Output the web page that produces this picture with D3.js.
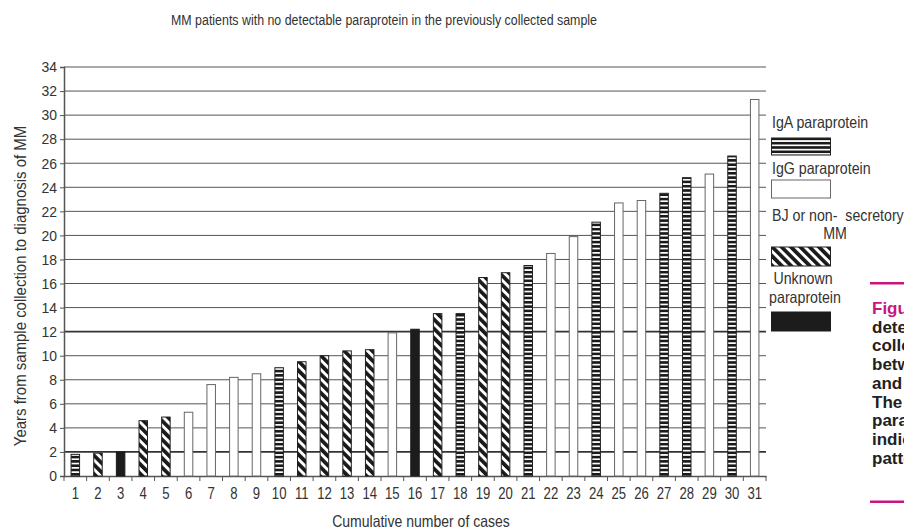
<!DOCTYPE html>
<html><head><meta charset="utf-8">
<script src="https://cdn.jsdelivr.net/npm/d3@7"></script>
<style>
html,body{margin:0;padding:0;background:#fff;}
svg{display:block;}
text{font-family:"Liberation Sans",Arial,sans-serif;fill:#333;}
.cap{font-family:"Liberation Sans",Arial,sans-serif;font-weight:bold;fill:#231f20;}
.pre{white-space:pre;}
</style></head>
<body>
<svg id="chart" width="904" height="530"></svg>
<script>
// ---- data ----
const cases = ["1","2","3","4","5","6","7","8","9","10","11","12","13","14","15","16","17","18","19","20","21","22","23","24","25","26","27","28","29","30","31"];
const years = [1.8, 1.9, 2.0, 4.6, 4.9, 5.3, 7.6, 8.2, 8.5, 9.0, 9.5, 10.0, 10.4, 10.5, 11.9, 12.2, 13.5, 13.5, 16.5, 16.9, 17.5, 18.5, 19.9, 21.1, 22.7, 22.9, 23.5, 24.8, 25.1, 26.6, 31.3];
const types = ["IgA","BJ","Unknown","BJ","BJ","IgG","IgG","IgG","IgG","IgA","BJ","BJ","BJ","BJ","IgG","Unknown","BJ","IgA","BJ","BJ","IgA","IgG","IgG","IgA","IgG","IgG","IgA","IgA","IgG","IgA","IgG"];
const yTicks = [0,2,4,6,8,10,12,14,16,18,20,22,24,26,28,30,32,34];
const legendKeys = ["IgA","IgG","BJ","Unknown"];
const titleText = "MM patients with no detectable paraprotein in the previously collected sample";
const xTitle = "Cumulative number of cases";
const yTitle = "Years from sample collection to diagnosis of MM";
const captionWords = ["Figure","detectable","collected","between","and","The","paraprotein","indicated","pattern"];

// ---- helpers ----
// condense text horizontally (the original uses a condensed face)
function squeeze(sel, k){
  sel.each(function(){
    const w = this.getComputedTextLength();
    d3.select(this).attr("textLength", w*k).attr("lengthAdjust","spacingAndGlyphs");
  });
}

// ---- setup ----
const svg = d3.select("#chart");
const L = 64, R = 766, T = 67, B = 476;
const x = d3.scaleBand().domain(cases).range([L, R]).paddingInner(0.58).paddingOuter(0.29);
const y = d3.scaleLinear().domain([0, 34]).range([B, T]);

const defs = svg.append("defs");
const ph = defs.append("pattern").attr("id","pIgA").attr("patternUnits","userSpaceOnUse").attr("width",10).attr("height",4.3);
ph.append("rect").attr("width",10).attr("height",4.3).attr("fill","#fff");
ph.append("rect").attr("y",0).attr("width",10).attr("height",2.6).attr("fill","#1a1a1a");
const pd = defs.append("pattern").attr("id","pBJ").attr("patternUnits","userSpaceOnUse").attr("width",6.6).attr("height",10).attr("patternTransform","rotate(-45)");
pd.append("rect").attr("width",6.6).attr("height",10).attr("fill","#fff");
pd.append("rect").attr("x",0).attr("width",3.7).attr("height",10).attr("fill","#1a1a1a");

const fillOf = {IgA:"url(#pIgA)", IgG:"#fff", BJ:"url(#pBJ)", Unknown:"#1c1c1c"};
const strokeOf = {IgA:"#222", IgG:"#666", BJ:"#222", Unknown:"#1c1c1c"};
const legendLines = {
  IgA:[{t:"IgA paraprotein",x:772,y:122,a:"start"}],
  IgG:[{t:"IgG paraprotein",x:772,y:168,a:"start"}],
  BJ:[{t:"BJ or non-  secretory",x:772,y:215,a:"start"},{t:"MM",x:835,y:233,a:"middle"}],
  Unknown:[{t:"Unknown",x:803,y:278,a:"middle"},{t:"paraprotein",x:805,y:297,a:"middle"}]
};
const swatchY = {IgA:138, IgG:180, BJ:247, Unknown:312};
const swatchH = {IgA:17, IgG:18, BJ:19, Unknown:19};

// title
svg.append("text").attr("x",384).attr("y",25).attr("text-anchor","middle")
  .attr("font-size",15.5).text(titleText).call(squeeze,0.8);

// gridlines
svg.append("g").selectAll("line").data(yTicks.filter(d=>d>0)).join("line")
  .attr("x1",L).attr("x2",R).attr("y1",d=>y(d)).attr("y2",d=>y(d))
  .attr("stroke",d=>(d===2||d===12)?"#333":"#555")
  .attr("stroke-width",d=>(d===2||d===12)?1.8:1);

// y axis
const yAxis = d3.axisLeft(y).tickValues(yTicks).tickSize(4).tickPadding(3).tickFormat(d3.format("d"));
const gy = svg.append("g").attr("transform",`translate(${L},0)`).call(yAxis);
gy.select(".domain").attr("stroke","#555").attr("stroke-width",1.5);
gy.selectAll(".tick line").attr("stroke","#555");
gy.selectAll(".tick text").attr("font-size",15).attr("fill","#333")
  .attr("font-family",'"Liberation Sans",Arial,sans-serif').call(squeeze,0.93);

// x axis
const xAxis = d3.axisBottom(x).tickSize(0).tickPadding(12);
const gx = svg.append("g").attr("transform",`translate(0,${B})`).call(xAxis);
gx.select(".domain").attr("stroke","#555").attr("stroke-width",1.5);
gx.selectAll(".tick text").attr("font-size",16).attr("fill","#333")
  .attr("font-family",'"Liberation Sans",Arial,sans-serif').call(squeeze,0.82);
const step = x.step();
gx.append("g").selectAll("line").data(d3.range(cases.length+1)).join("line")
  .attr("x1",i=>L+i*step).attr("x2",i=>L+i*step).attr("y1",0).attr("y2",5)
  .attr("stroke","#555");

// bars
svg.append("g").selectAll("rect").data(cases).join("rect")
  .attr("x",(d)=>x(d)+0.5).attr("width",x.bandwidth()-1)
  .attr("y",(d,i)=>y(years[i])).attr("height",(d,i)=>y(0)-y(years[i]))
  .attr("fill",(d,i)=>fillOf[types[i]]).attr("stroke",(d,i)=>strokeOf[types[i]]).attr("stroke-width",1);

// axis titles
svg.append("text").attr("x",421).attr("y",527).attr("text-anchor","middle").attr("font-size",16.5)
  .text(xTitle).call(squeeze,0.85);
svg.append("text").attr("transform","translate(26,286) rotate(-90)").attr("text-anchor","middle")
  .attr("font-size",17).text(yTitle).call(squeeze,0.88);

// legend
const lg = svg.append("g");
legendKeys.forEach(k=>{
  legendLines[k].forEach(l=>{
    lg.append("text").attr("class","pre").attr("x",l.x).attr("y",l.y).attr("dy","0.35em").attr("text-anchor",l.a)
      .attr("font-size",16.5).text(l.t).call(squeeze,0.86);
  });
  lg.append("rect").attr("x",771.5).attr("y",swatchY[k]).attr("width",59).attr("height",swatchH[k])
    .attr("fill",fillOf[k]).attr("stroke",strokeOf[k]).attr("stroke-width",1);
});

// caption fragment (cut by page edge as in the source)
const cg = svg.append("g");
cg.append("rect").attr("x",870).attr("y",282).attr("width",40).attr("height",2.5).attr("fill","#c8157f");
cg.append("rect").attr("x",870).attr("y",500.5).attr("width",40).attr("height",2.5).attr("fill","#c8157f");
cg.selectAll("text").data(captionWords).join("text").attr("class","cap")
  .attr("x",872).attr("y",(d,i)=>308+i*18.75).attr("dy","0.35em").attr("font-size",17)
  .style("fill",(d,i)=>i===0?"#c8157f":"#231f20").text(d=>d);
</script>
</body></html>
